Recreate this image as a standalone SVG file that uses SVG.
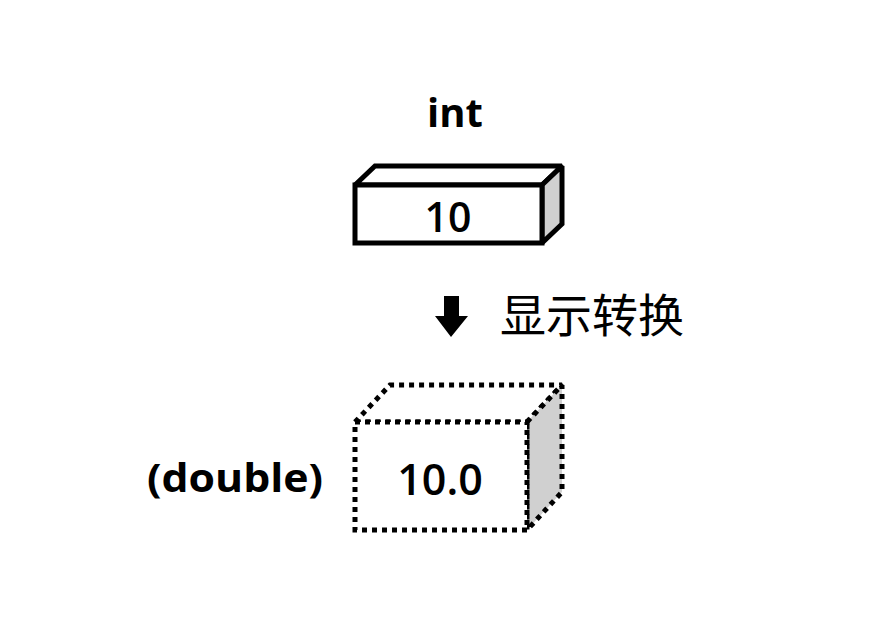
<svg xmlns="http://www.w3.org/2000/svg" width="878" height="631" viewBox="0 0 878 631">
<style>
.lat{font-family:"Open Sans","Noto Sans",sans-serif;fill:#000}
.b{font-weight:bold}
.m{font-weight:600}
.cjk{font-family:"Noto Sans CJK SC",sans-serif;fill:#000}
.solid{stroke:#000;stroke-width:5;stroke-linejoin:miter;stroke-miterlimit:1.5}
.dot{stroke:#000;stroke-width:5;stroke-dasharray:5 5;stroke-miterlimit:1.5}
</style>
<rect width="878" height="631" fill="#fff"/>
<g id="int-label"><text class="lat b" x="455" y="127" font-size="40" text-anchor="middle">int</text></g>
<g id="int-box">
<polygon class="solid" points="355,185 375,166 562,166 542,185" fill="#fff"/>
<polygon class="solid" points="542,185 562,166 562,224 542,243" fill="#d0d0d0"/>
<rect class="solid" x="355" y="185" width="187" height="58" fill="#fff"/>
<text class="lat m" x="448" y="232" font-size="41" text-anchor="middle">10</text>
</g>
<g id="connectors">
<polygon points="444,296 459,296 459,316 468,316 451,337 435,316 444,316" fill="#000"/>
</g>
<g id="conversion-label"><text class="cjk" x="500" y="332" font-size="46">显示转换</text></g>
<g id="double-box">
<polygon class="dot" points="355,422 390,385 562,385 527,422" fill="#fff"/>
<polygon class="dot" points="527,422 562,385 562,492 527,530" fill="#d0d0d0"/>
<rect class="dot" x="355" y="422" width="172" height="108" fill="#fff"/>
<text class="lat m" x="440" y="495" font-size="43" text-anchor="middle">10.0</text>
</g>
<g id="double-label"><text class="lat b" x="147" y="492" font-size="40" textLength="176" lengthAdjust="spacingAndGlyphs">(double)</text></g>
</svg>
